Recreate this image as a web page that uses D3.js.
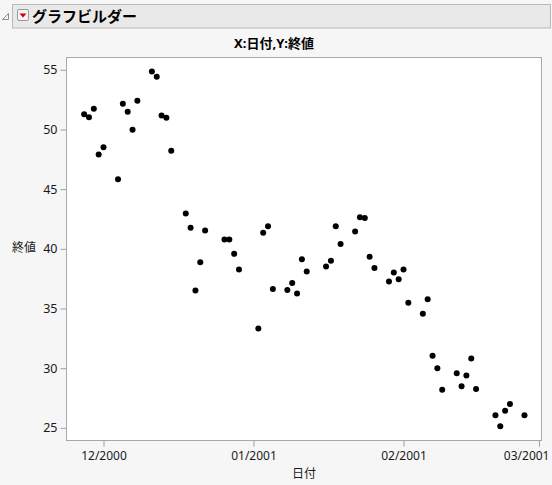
<!DOCTYPE html>
<html>
<head>
<meta charset="utf-8">
<script src="https://cdn.jsdelivr.net/npm/d3@7"></script>
<style>
  html, body { margin: 0; padding: 0; background: #f6f6f6; }
  svg { display: block; }
  text { font-family: "Segoe UI", "Noto Sans", "Noto Sans CJK JP", sans-serif; }
</style>
</head>
<body>
<svg id="chart" width="552" height="485"></svg>
<script>
// ---- Data ----
const dates = [
  "2000-11-27","2000-11-28","2000-11-29","2000-11-30","2000-12-01",
  "2000-12-04","2000-12-05","2000-12-06","2000-12-07","2000-12-08",
  "2000-12-11","2000-12-12","2000-12-13","2000-12-14","2000-12-15",
  "2000-12-18","2000-12-19","2000-12-20","2000-12-21","2000-12-22",
  "2000-12-26","2000-12-27","2000-12-28","2000-12-29",
  "2001-01-02","2001-01-03","2001-01-04","2001-01-05",
  "2001-01-08","2001-01-09","2001-01-10","2001-01-11","2001-01-12",
  "2001-01-16","2001-01-17","2001-01-18","2001-01-19",
  "2001-01-22","2001-01-23","2001-01-24","2001-01-25","2001-01-26",
  "2001-01-29","2001-01-30","2001-01-31","2001-02-01","2001-02-02",
  "2001-02-05","2001-02-06","2001-02-07","2001-02-08","2001-02-09",
  "2001-02-12","2001-02-13","2001-02-14","2001-02-15","2001-02-16",
  "2001-02-20","2001-02-21","2001-02-22","2001-02-23",
  "2001-02-26"
];
const closeValues = [
  51.28, 51.03, 51.73, 47.90, 48.51,
  45.83, 52.15, 51.48, 49.97, 52.40,
  54.86, 54.41, 51.17, 50.98, 48.21,
  42.95, 41.76, 36.50, 38.87, 41.53,
  40.78, 40.78, 39.58, 38.26,
  33.32, 41.34, 41.89, 36.64,
  36.56, 37.14, 36.25, 39.13, 38.10,
  38.51, 39.01, 41.89, 40.41,
  41.45, 42.65, 42.59, 39.33, 38.40,
  37.26, 38.01, 37.45, 38.26, 35.49,
  34.57, 35.77, 31.05, 29.99, 28.20,
  29.57, 28.48, 29.38, 30.80, 28.26,
  26.05, 25.13, 26.44, 27.00,
  26.05
];
const yTicks = [25, 30, 35, 40, 45, 50, 55];
const xTickDates = ["2000-12-01", "2001-01-01", "2001-02-01", "2001-03-01"];
const xTickLabels = ["12/2000", "01/2001", "02/2001", "03/2001"];
const headerTitle = "グラフビルダー";
const chartTitle = "X:日付,Y:終値";
const xLabel = "日付";
const yLabel = "終値";

// ---- Layout ----
const parse = d3.utcParse("%Y-%m-%d");
const svg = d3.select("#chart");
const plot = { left: 66.5, right: 541.5, top: 57.5, bottom: 440.5 };

// Header bar
svg.append("rect").attr("x", 12.5).attr("y", 4.5).attr("width", 538).attr("height", 23.5)
  .attr("fill", "#e9e9e9").attr("stroke", "#b9b9b9");
// disclosure triangle
svg.append("path").attr("d", "M2.5,19.5 L8.5,13.5 L8.5,19.5 Z")
  .attr("fill", "none").attr("stroke", "#8a8a8a").attr("stroke-width", 1);
// red menu icon
svg.append("rect").attr("x", 17.5).attr("y", 9.5).attr("width", 11).attr("height", 11)
  .attr("rx", 1.5).attr("fill", "#f4f4f4").attr("stroke", "#9a9a9a");
svg.append("path").attr("d", "M19.5,13.5 L26.5,13.5 L23,17.5 Z").attr("fill", "#d10000");
svg.append("text").attr("x", 32).attr("y", 21.5).attr("font-size", 15).attr("font-weight", "bold")
  .attr("fill", "#000").text(headerTitle);

// Title
svg.append("text").attr("x", 274).attr("y", 48).attr("text-anchor", "middle")
  .attr("font-size", 13).attr("font-weight", "bold").attr("fill", "#000").text(chartTitle);

// Plot area
svg.append("rect").attr("x", plot.left).attr("y", plot.top)
  .attr("width", plot.right - plot.left).attr("height", plot.bottom - plot.top)
  .attr("fill", "#ffffff").attr("stroke", "#a8a8a8");

// Scales
const msDay = 86400000;
const dec1 = parse("2000-12-01").getTime();
const pxPerDay = 150 / 31;
const x = d3.scaleUtc()
  .domain([new Date(dec1 - (103.5 - plot.left) / pxPerDay * msDay),
           new Date(dec1 + (plot.right - 103.5) / pxPerDay * msDay)])
  .range([plot.left, plot.right]);

const y = d3.scaleLinear().domain([23.94, 56.03]).range([plot.bottom, plot.top]);

const tickFont = "\"Segoe UI\", \"Noto Sans\", sans-serif";

// Axes
const yAxis = d3.axisLeft(y).tickValues(yTicks).tickSize(6).tickPadding(3).tickFormat(d3.format("d"));
const gy = svg.append("g").attr("transform", `translate(${plot.left},0)`).call(yAxis);
gy.select(".domain").remove();
gy.selectAll(".tick line").attr("stroke", "#a0a0a0");
gy.selectAll(".tick text").attr("font-size", 12.5).attr("fill", "#1a1a1a").attr("font-family", tickFont);

const xAxis = d3.axisBottom(x).tickValues(xTickDates.map(parse)).tickSize(6).tickPadding(5)
  .tickFormat((d, i) => xTickLabels[i]);
const gx = svg.append("g").attr("transform", `translate(0,${plot.bottom})`).call(xAxis);
gx.select(".domain").remove();
gx.selectAll(".tick line").attr("stroke", "#a0a0a0");
gx.selectAll(".tick text").attr("font-size", 12).attr("fill", "#1a1a1a").attr("font-family", tickFont);
// keep the last label inside the window, as the reference does
gx.selectAll(".tick text").filter((d, i) => i === xTickDates.length - 1)
  .attr("text-anchor", "end").attr("x", 10);

// Axis labels
svg.append("text").attr("x", 304).attr("y", 478).attr("text-anchor", "middle")
  .attr("font-size", 12).attr("fill", "#1a1a1a").text(xLabel);
svg.append("text").attr("x", 12).attr("y", 252).attr("text-anchor", "start")
  .attr("font-size", 12).attr("fill", "#1a1a1a").text(yLabel);

// Points
const data = dates.map((d, i) => ({ date: parse(d), value: closeValues[i] }));
svg.append("g").selectAll("circle").data(data).join("circle")
  .attr("cx", d => x(d.date)).attr("cy", d => y(d.value)).attr("r", 3)
  .attr("fill", "#000");
</script>
</body>
</html>
